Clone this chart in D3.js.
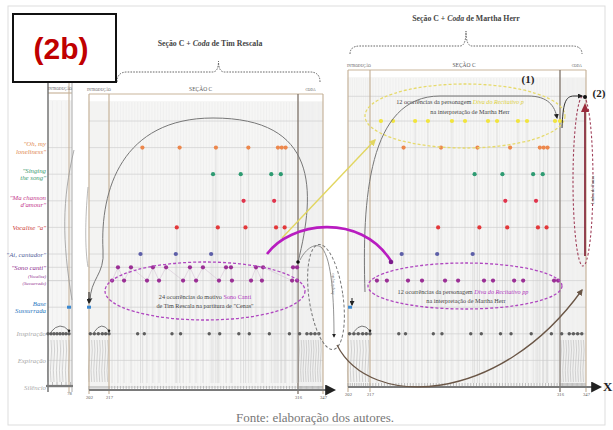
<!DOCTYPE html>
<html>
<head>
<meta charset="utf-8">
<script src="https://cdn.jsdelivr.net/npm/d3@7"></script>
<style>body{margin:0;background:#fff}</style>
</head>
<body>
<div id="chart"></div>
<script>
// measure numbers (both panels share the same score positions)
const sectionBreaks = [202, 217, 316, 347]
const introMeasures = [71, 72, 73, 74, 75, 76, 77, 78]
const divaP = [222.7, 229, 240.5, 247.2, 259.7, 266.5, 278.5, 283.2, 294.1, 298.8, 313.4, 316]
const ohLoneliness = [234.5, 254, 273, 290, 305.5, 307.5, 309.5]
const singingSong = [271.5, 286, 302, 307]
const maChanson = [287.5, 303.5]
const vocaliseA = [252.5, 274, 288.5, 304.5, 309]
const aiCantador = [233.5, 252, 270.5]
const sonoCantiUpper = [221.7, 228.5, 240, 246.9, 259.4, 266.2, 278.3, 280.9, 294, 297.7, 313.4, 315.5]
const sonoCantiLower = [218.6, 224.9, 236.9, 243.2, 255.8, 262.6, 274.6, 281.4, 291.4, 297.1, 312.9, 315.5]
const divaPP = [220.6, 225.8, 236.8, 244.1, 256.1, 262.9, 276.4, 281.1, 292.1, 296.8, 312.9, 315]
const inspirationIntro = [203, 206, 209, 212, 214.5, 217]
const inspirations = [232, 235.5, 250, 254.5, 269.5, 275, 285, 290.5, 301, 311.5, 318]
const inspirationCoda = [327, 332, 337, 342]

const rowLabels = [
    {row: 1, lines: ['"Oh, my', 'loneliness"'], c: '#e0894e'},
    {row: 2, lines: ['"Singing', 'the song"'], c: '#3a9a70'},
    {row: 3, lines: ['"Ma chanson', "d'amour\""], c: '#c4388c'},
    {row: 4, lines: ['Vocalise "a"'], c: '#cc3b3b'},
    {row: 5, lines: ['"Ai, cantador"'], c: '#58669c'},
    {row: 5.8, lines: ['"Sono canti"', '(Vocalize)', '(Sussurrado)'], c: '#8e2c8e'},
    {row: 7, lines: ['Base', 'Sussurrada'], c: '#2a78c0'},
    {row: 8, lines: ['Inspiração'], c: '#aaa'},
    {row: 9, lines: ['Expiração'], c: '#aaa'},
    {row: 10, lines: ['Silêncio'], c: '#aaa'}
]

const W = 613, H = 430
const SERIF = "'Liberation Serif', 'DejaVu Serif', serif"

const svg = d3.select('#chart').append('svg')
    .attr('width', W)
    .attr('height', H)
    .style('font-family', SERIF)

// arrow markers
const defs = svg.append('defs')
;[['gray', '#777'], ['black', '#222'], ['yellow', '#e2d660'], ['brown', '#6a5646'], ['mag', '#7a1a8a']].forEach(([id, col]) => {
    defs.append('marker').attr('id', 'arr-' + id)
        .attr('viewBox', '0 0 10 10').attr('refX', 8).attr('refY', 5)
        .attr('markerWidth', 5).attr('markerHeight', 5).attr('orient', 'auto-start-reverse')
        .append('path').attr('d', 'M0,0 L10,5 L0,10 z').attr('fill', col)
})

svg.append('rect').attr('x', 8).attr('y', 6).attr('width', 597).attr('height', 419)
    .attr('fill', '#fff').attr('stroke', '#ddd')

// scales
const xA = d3.scaleLinear().domain([71, 79]).range([48, 72])
const xB = d3.scaleLinear().domain(sectionBreaks).range([89, 109, 298, 323])
const xC = d3.scaleLinear().domain(sectionBreaks).range([348, 370, 560, 586])
const yRow = d3.scaleLinear().domain([0, 10]).range([121, 387])

// ---------- panel frames, grids, stripes ----------
function drawFrame(x, top, bottom, firstRow, extraRows) {
    const [x0, x1] = [x.range()[0], x.range()[x.range().length - 1]]
    const g = svg.append('g')
    g.append('rect').attr('x', x0).attr('y', top + 7).attr('width', x1 - x0).attr('height', bottom - top - 12)
        .attr('fill', '#f6f6f5')
    // faint measure stripes
    const [d0, d1] = [x.domain()[0], x.domain()[x.domain().length - 1]]
    g.selectAll('line.stripe').data(d3.range(d0, d1, 1.5)).enter().append('line')
        .attr('x1', d => x(d)).attr('x2', d => x(d)).attr('y1', top + 8).attr('y2', bottom - 6)
        .attr('stroke', '#e9e9e9').attr('stroke-width', 0.5)
    const rows = d3.range(firstRow, 11).concat(extraRows)
    g.selectAll('line.row').data(rows).enter().append('line')
        .attr('x1', x0).attr('x2', x1).attr('y1', d => yRow(d)).attr('y2', d => yRow(d))
        .attr('stroke', '#d3d3d3').attr('stroke-width', 0.8)
    g.append('line').attr('x1', x0).attr('x2', x1).attr('y1', top).attr('y2', top)
        .attr('stroke', '#c9b59c').attr('stroke-width', 1.2)
    return g
}

function drawSections(x, top, bottom) {
    const dom = x.domain()
    svg.selectAll(null).data(dom).enter().append('line')
        .attr('x1', d => x(d)).attr('x2', d => x(d)).attr('y1', top).attr('y2', bottom)
        .attr('stroke', (d, i) => i === 2 ? '#7d7268' : '#c2ad93')
        .attr('stroke-width', (d, i) => i === 2 ? 1.3 : 1.1)
}

function drawHatch(x, from, to, step) {
    svg.selectAll(null).data(d3.range(from, to, step)).enter().append('path')
        .attr('d', d => `M${x(d)},340 q1.2,10 0,20 q-1.2,10 0,22`)
        .attr('fill', 'none').attr('stroke', '#bbb').attr('stroke-width', 0.6)
}

// panel A (introduction)
drawFrame(xA, 93, 392, 1, [5.5, 6])
drawHatch(xA, 71, 79, 1)
svg.selectAll(null).data([71, 78, 79]).enter().append('line')
    .attr('x1', d => xA(d)).attr('x2', d => xA(d)).attr('y1', 83).attr('y2', 392)
    .attr('stroke', (d, i) => i === 0 ? '#6d6d6d' : (i === 1 ? '#c2ad93' : '#aaa'))
    .attr('stroke-width', (d, i) => i === 0 ? 1.4 : 1)

// panel B (Tim Rescala)
drawFrame(xB, 94, 393, 0, [5.5])
drawHatch(xB, 202, 217, 2)
drawHatch(xB, 317, 347, 3)
drawSections(xB, 94, 394)

// panel C (Martha Herr)
drawFrame(xC, 70, 391, 0, [-0.93])
drawHatch(xC, 202, 217, 2)
drawHatch(xC, 317, 347, 3)
drawSections(xC, 70, 392)

// section headers
const hdr = [
    [xA, 93, [[75, 'INTRODUÇÃO']]],
    [xB, 94, [[209.5, 'INTRODUÇÃO'], [265, 'SEÇÃO C'], [331.5, 'CODA']]],
    [xC, 70, [[209.5, 'INTRODUÇÃO'], [266, 'SEÇÃO C'], [336, 'CODA']]]
]
hdr.forEach(([x, top, items]) => {
    svg.selectAll(null).data(items).enter().append('text')
        .attr('x', d => x(d[0])).attr('y', top - 3)
        .attr('text-anchor', 'middle')
        .attr('font-size', d => d[1] === 'SEÇÃO C' ? 5.5 : 3.6)
        .attr('fill', '#555')
        .text(d => d[1])
})

// ---------- row labels ----------
rowLabels.forEach(r => {
    const n = r.lines.length
    r.lines.forEach((t, i) => {
        svg.append('text')
            .attr('x', 46).attr('y', yRow(r.row) + (i - (n - 1) / 2) * 7.5 + 2.5)
            .attr('text-anchor', 'end')
            .attr('font-style', 'italic')
            .attr('font-size', i > 0 && n === 3 ? 4.5 : 6.8)
            .attr('fill', r.c)
            .text(t)
    })
})

// ---------- stems + dots ----------
const seriesB = [
    {v: ohLoneliness, row: 1, c: '#ec874c'},
    {v: singingSong, row: 2, c: '#2e9b72'},
    {v: maChanson, row: 3, c: '#e0344c'},
    {v: vocaliseA, row: 4, c: '#e3383a'},
    {v: aiCantador, row: 5, c: '#5d5fa8'},
    {v: sonoCantiUpper, row: 5.5, c: '#9b2f95'},
    {v: sonoCantiLower, row: 6, c: '#9b2f95'}
]
const seriesC = [
    {v: divaP, row: 0, c: '#f1e43c'},
    {v: ohLoneliness, row: 1, c: '#ec874c'},
    {v: singingSong, row: 2, c: '#2e9b72'},
    {v: maChanson, row: 3, c: '#e0344c'},
    {v: vocaliseA, row: 4, c: '#e3383a'},
    {v: aiCantador, row: 5, c: '#5d5fa8'},
    {v: divaPP, row: 6, c: '#9b2f95'}
]

function drawSeries(x, series) {
    series.forEach(s => {
        svg.selectAll(null).data(s.v).enter().append('line')
            .attr('x1', d => x(d)).attr('x2', d => x(d))
            .attr('y1', yRow(s.row)).attr('y2', 383)
            .attr('stroke', '#cdcdcd').attr('stroke-width', 0.5)
    })
    series.forEach(s => {
        svg.selectAll(null).data(s.v).enter().append('circle')
            .attr('cx', d => x(d)).attr('cy', yRow(s.row)).attr('r', 2.1)
            .attr('fill', s.c)
    })
}
// zig-zag of the Sono canti motif in panel B
const sono = sonoCantiUpper.map(v => [v, 5.5]).concat(sonoCantiLower.map(v => [v, 6]))
    .sort((a, b) => a[0] - b[0])
svg.append('path')
    .attr('d', d3.line().x(d => xB(d[0])).y(d => yRow(d[1]))(sono))
    .attr('fill', 'none').attr('stroke', '#d4c4d4').attr('stroke-width', 0.6)
drawSeries(xB, seriesB)
drawSeries(xC, seriesC)

// base sussurrada
;[[xA, 78], [xB, 202], [xC, 203.4]].forEach(([x, m]) => {
    svg.append('rect').attr('x', x(m) - 2).attr('y', yRow(7) - 1.5).attr('width', 4).attr('height', 3)
        .attr('fill', '#3a88d0')
})

// inspirations
function drawBreaths(x, clusters, singles) {
    clusters.forEach(c => {
        svg.append('line').attr('x1', x(c[0])).attr('x2', x(c[c.length - 1]))
            .attr('y1', yRow(8)).attr('y2', yRow(8)).attr('stroke', '#777').attr('stroke-width', 0.8)
    })
    svg.selectAll(null).data(clusters.flat().concat(singles)).enter().append('circle')
        .attr('cx', d => x(d)).attr('cy', yRow(8)).attr('r', 1.7).attr('fill', '#5e5e5e')
    const c0 = clusters[0]
    const xs = x(c0[1]), xe = x(c0[c0.length - 1])
    svg.append('path').attr('d', `M${xs},${yRow(8) - 2} Q${(xs + xe) / 2},${yRow(8) - 13} ${xe},${yRow(8) - 3}`)
        .attr('fill', 'none').attr('stroke', '#444').attr('stroke-width', 0.7)
    svg.append('circle').attr('cx', xe).attr('cy', yRow(8) - 3).attr('r', 1.3).attr('fill', '#222')
}
drawBreaths(xA, [introMeasures], [])
drawBreaths(xB, [inspirationIntro, inspirationCoda], inspirations)
drawBreaths(xC, [inspirationIntro, inspirationCoda], inspirations)

// ---------- bottom axes ----------
function drawAxis(x, y, x0, x1, ticks) {
    svg.selectAll(null).data(d3.range(x.domain()[0], x.domain()[x.domain().length - 1], 1.5)).enter()
        .append('line').attr('x1', d => x(d)).attr('x2', d => x(d))
        .attr('y1', y - 4).attr('y2', y).attr('stroke', '#999').attr('stroke-width', 0.6)
    svg.append('line').attr('x1', x0).attr('x2', x1).attr('y1', y).attr('y2', y)
        .attr('stroke', '#7a7a7a').attr('stroke-width', 2.2)
        .attr('marker-end', x1 > x0 + 40 ? 'url(#arr-black)' : null)
    const ax = svg.append('g').attr('transform', `translate(0,${y + 1})`)
        .call(d3.axisBottom(x).tickValues(ticks).tickSize(0).tickPadding(5))
    ax.select('.domain').remove()
    ax.selectAll('text').attr('font-size', 4.6).attr('fill', '#555').attr('font-family', SERIF)
}
drawAxis(xA, 386, 46, 73, [78])
drawAxis(xB, 390, 89, 334, sectionBreaks)
drawAxis(xC, 387, 348, 600, sectionBreaks)
svg.append('text').attr('x', 603).attr('y', 391).attr('font-size', 13).attr('font-weight', 'bold')
    .attr('fill', '#222').text('X')

// ---------- ellipses and annotations ----------
svg.append('ellipse').attr('cx', 205).attr('cy', 291).attr('rx', 100).attr('ry', 29)
    .attr('fill', 'none').attr('stroke', '#b048c0').attr('stroke-width', 1.3).attr('stroke-dasharray', '3,2')
svg.append('ellipse').attr('cx', 465).attr('cy', 286).attr('rx', 97).attr('ry', 23)
    .attr('fill', 'none').attr('stroke', '#b048c0').attr('stroke-width', 1.3).attr('stroke-dasharray', '3,2')
svg.append('ellipse').attr('cx', 465).attr('cy', 116).attr('rx', 100).attr('ry', 32)
    .attr('fill', 'none').attr('stroke', '#e6da6c').attr('stroke-width', 1.3).attr('stroke-dasharray', '3,2')
svg.append('ellipse').attr('cx', 583).attr('cy', 181).attr('rx', 10).attr('ry', 85)
    .attr('fill', 'none').attr('stroke', '#a0405a').attr('stroke-width', 1.1).attr('stroke-dasharray', '2.5,2')
svg.append('ellipse').attr('cx', 326).attr('cy', 297).attr('rx', 17).attr('ry', 53)
    .attr('transform', 'rotate(-8,326,297)')
    .attr('fill', 'none').attr('stroke', '#777').attr('stroke-width', 1).attr('stroke-dasharray', '3,2')

function note(x, y, parts, size) {
    const t = svg.append('text').attr('x', x).attr('y', y).attr('text-anchor', 'middle')
        .attr('font-size', size || 6.2).attr('fill', '#444')
    parts.forEach(p => t.append('tspan').attr('fill', p[1] || '#444')
        .attr('font-style', p[2] ? 'italic' : null).text(p[0]))
}
note(205, 299, [['24 ocorrências do motivo '], ['Sono Canti', '#b03ac0']])
note(205, 308, [['de Tim Rescala na partitura de "Cenas"']])
note(463, 294, [['12 ocorrências da personagem '], ['Diva do Recitativo pp', '#b03ac0', true]])
note(466, 303, [['na interpretação de Martha Herr']])
note(460, 104, [['12 ocorrências da personagem '], ['Diva do Recitativo p', '#dccf40', true]])
note(470, 114, [['na interpretação de Martha Herr']])

svg.append('text').attr('transform', 'translate(334,284) rotate(-90)').attr('text-anchor', 'middle')
    .attr('font-size', 5).attr('font-style', 'italic').attr('fill', '#777').text('Inspiração')
svg.append('text').attr('transform', 'translate(594,190) rotate(-90)').attr('text-anchor', 'middle')
    .attr('font-size', 4.6).attr('fill', '#555').text('Linha de Pausa')

// curves
const curves = [
    ['M298,262 C316,190 318,118 213,118 C122,118 100,190 103,250 C105,275 90,278 90,302', '#777', 1, 'gray'],
    ['M74,150 C62,200 62,240 72,300', '#999', 0.8, null],
    ['M88,187 C85,220 85,250 88,267', '#aaa', 0.8, null],
    ['M300,260 C306,248 316,242 322,248 C332,260 334,300 334,337', '#777', 0.8, 'black'],
    ['M365,292 C362,200 368,96 440,96 L528,96 C548,96 555,106 557,118', '#777', 1, 'black'],
    ['M562,128 C563,104 565,96 574,96 L582,96', '#333', 1, 'black'],
    ['M337,345 C370,410 500,405 582,290', '#6a5646', 1.3, 'brown'],
    ['M282,238 L375,140', '#e2d660', 1.4, 'yellow'],
    ['M267,254 C290,222 360,212 391,261', '#b81cc0', 2.6, null]
]
curves.forEach(([d, col, w, m]) => {
    svg.append('path').attr('d', d).attr('fill', 'none').attr('stroke', col).attr('stroke-width', w)
        .attr('marker-end', m ? `url(#arr-${m})` : null)
})
svg.append('circle').attr('cx', 391).attr('cy', 262).attr('r', 2.3).attr('fill', '#7a1a8a')
svg.append('circle').attr('cx', 298).attr('cy', 262).attr('r', 1.8).attr('fill', '#111')
svg.append('circle').attr('cx', 585).attr('cy', 97).attr('r', 2).attr('fill', '#111')
svg.append('line').attr('x1', 585).attr('x2', 585).attr('y1', 256).attr('y2', 106)
    .attr('stroke', '#8a3040').attr('stroke-width', 1.8)
svg.append('path').attr('d', 'M581,112 L585,103 L589,112 z').attr('fill', '#9a2a3a')
svg.append('path').attr('d', 'M89,292 L89,303').attr('stroke', '#222').attr('stroke-width', 1)
    .attr('marker-end', 'url(#arr-black)')
svg.append('path').attr('d', 'M352,298 L352,305').attr('stroke', '#222').attr('stroke-width', 1)
    .attr('marker-end', 'url(#arr-black)')

svg.append('text').attr('x', 528).attr('y', 83).attr('text-anchor', 'middle')
    .attr('font-size', 11).attr('font-weight', 'bold').attr('fill', '#222').text('(1)')
svg.append('text').attr('x', 599).attr('y', 97).attr('text-anchor', 'middle')
    .attr('font-size', 11).attr('font-weight', 'bold').attr('fill', '#222').text('(2)')

// ---------- titles and braces ----------
function brace(x1, x2, y, tip, drop) {
    const m = (x1 + x2) / 2
    svg.append('path')
        .attr('d', `M${x1},${y + drop} Q${x1},${y} ${x1 + 10},${y} L${m - 6},${y} Q${m},${y} ${m},${tip} Q${m},${y} ${m + 6},${y} L${x2 - 10},${y} Q${x2},${y} ${x2},${y + drop}`)
        .attr('fill', 'none').attr('stroke', '#555').attr('stroke-width', 0.9).attr('stroke-dasharray', '1.6,1.2')
}
brace(117, 320, 72, 61, 10)
brace(350, 582, 46, 31, 8)
function title(x, y, who) {
    const t = svg.append('text').attr('x', x).attr('y', y).attr('text-anchor', 'middle')
        .attr('font-size', 7.8).attr('font-weight', 'bold').attr('fill', '#444')
    t.append('tspan').text('Seção C + ')
    t.append('tspan').attr('font-style', 'italic').text('Coda')
    t.append('tspan').text(' de ' + who)
}
title(210, 46, 'Tim Rescala')
title(466, 21, 'Martha Herr')

svg.append('text').attr('x', 315).attr('y', 422).attr('text-anchor', 'middle')
    .attr('font-size', 13).attr('fill', '#777').text('Fonte: elaboração dos autores.')

// label box
svg.append('rect').attr('x', 13).attr('y', 14).attr('width', 103).attr('height', 68)
    .attr('fill', '#fff').attr('stroke', '#111').attr('stroke-width', 2)
svg.append('text').attr('x', 61).attr('y', 59).attr('text-anchor', 'middle')
    .attr('font-family', "'Liberation Sans', Arial, sans-serif")
    .attr('font-size', 30).attr('font-weight', 'bold').attr('fill', '#c00000').text('(2b)')
</script>
</body>
</html>
